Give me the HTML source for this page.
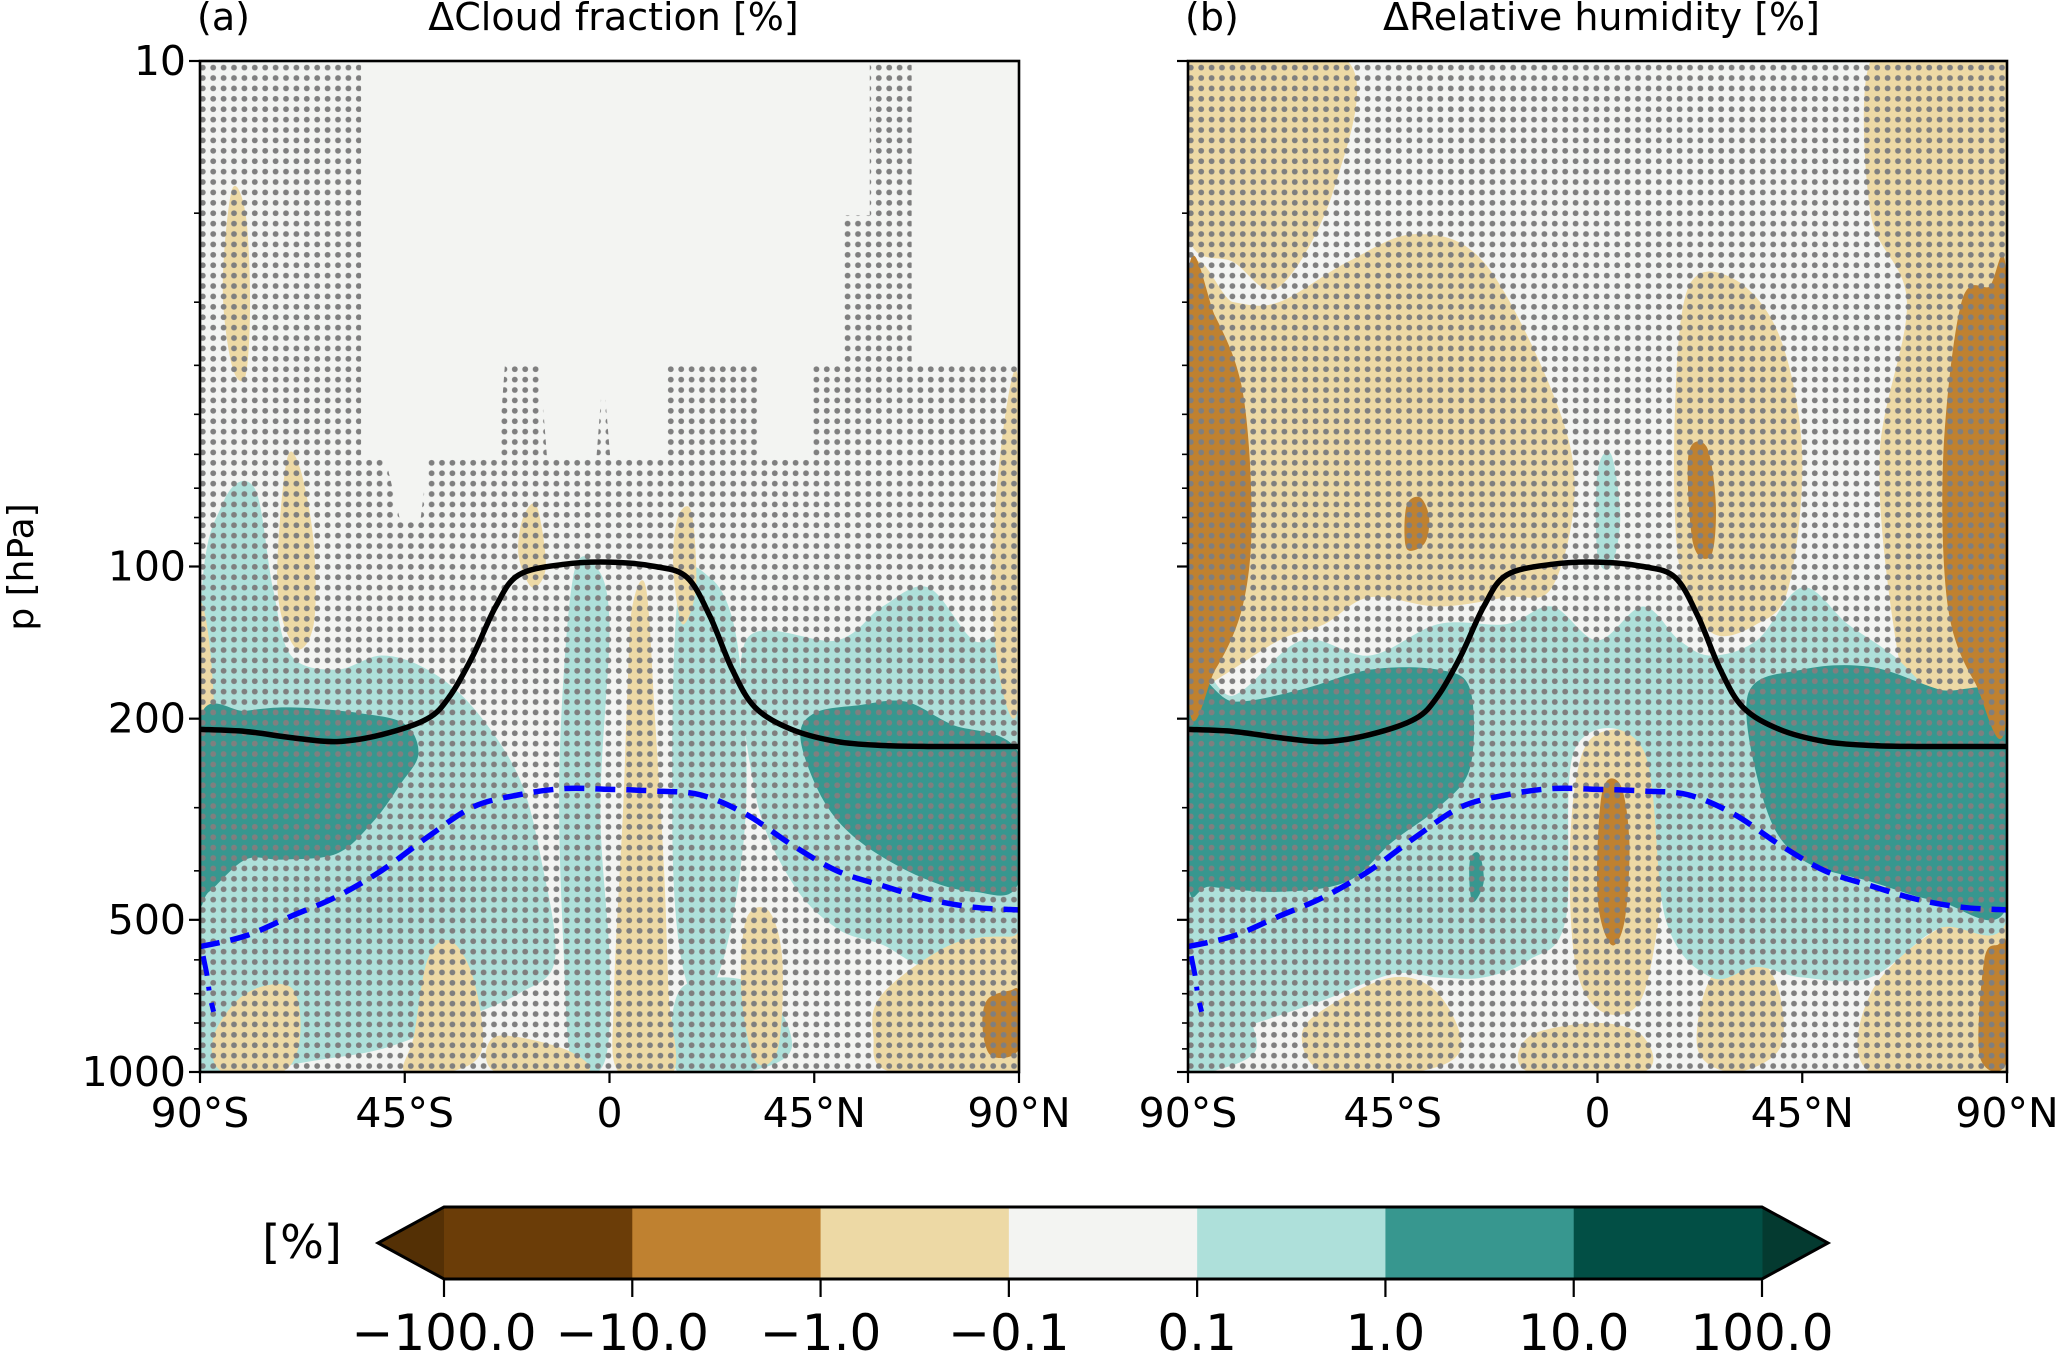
<!DOCTYPE html>
<html><head><meta charset="utf-8"><style>
html,body{margin:0;padding:0;background:#fff;}
svg{display:block;font-family:"DejaVu Sans","Liberation Sans",sans-serif;}
</style></head><body>
<svg id="fig" width="2067" height="1355" viewBox="0 0 2067 1355" xmlns="http://www.w3.org/2000/svg">
<defs>
<pattern id="dots" x="0" y="0" width="10.4" height="10.4" patternUnits="userSpaceOnUse">
<circle cx="5.2" cy="5.2" r="2.9" fill="#7f7f7f"/>
</pattern>
<clipPath id="clipA"><rect x="200" y="61" width="819" height="1011"/></clipPath>
<clipPath id="clipB"><rect x="1188" y="61" width="819" height="1011"/></clipPath>
</defs>
</svg>
<script>
// ---- data ----
const tropLat = [-90,-80,-70,-60,-50,-40,-35,-30,-25,-20,-10,0,10,17,22,27,32,40,50,60,70,90];
const tropP   = [210,212,218,222,215,200,180,150,120,104,99,98,100,105,125,160,190,210,222,226,227,227];
const blueLat = [-90,-80,-70,-60,-50,-40,-30,-20,-10,0,10,20,30,40,50,60,70,80,90];
const blueP   = [565,538,492,450,399,343,299,283,275,276,278,283,309,355,400,428,455,472,478];
const xTicks = [-90,-45,0,45,90];
const xTickLabels = ["90°S","45°S","0","45°N","90°N"];
const yMajor = [10,100,200,500,1000];
const yMinor = [20,30,40,50,60,70,80,90,300,400,600,700,800,900];
const cbLabels = ["\u2212100.0","\u221210.0","\u22121.0","\u22120.1","0.1","1.0","10.0","100.0"];
const cbColors = ["#6b3d08","#bf8130","#edd9a5","#f3f4f2","#aee0da","#37978f","#024f45"];

const lightA = [
 [[-90,130],[-85,75],[-78,70],[-74,110],[-70,150],[-60,160],[-50,150],[-40,160],[-30,190],[-20,260],[-15,380],[-12,600],[-20,700],[-35,800],[-50,900],[-65,950],[-80,1000],[-90,1000]],
 [[-8,105],[-3,100],[0,130],[-2,300],[0,600],[-1,950],[-8,980],[-10,600],[-11,250]],
 [[15,115],[22,105],[28,140],[30,300],[25,600],[18,700],[14,400]],
 [[30,140],[50,140],[60,120],[70,110],[80,140],[90,150],[90,550],[80,560],[70,620],[60,560],[50,520],[40,420],[32,280]],
 [[15,700],[25,650],[35,700],[40,900],[30,1000],[15,1000]]
];
const tanA = [
 [[-83,18],[-80,20],[-79,30],[-80,42],[-83,40],[-85,28]],
 [[-71,62],[-68,64],[-65,90],[-65,130],[-69,145],[-73,110]],
 [[-90,120],[-88,140],[-87,200],[-90,210]],
 [[5,120],[8,110],[10,200],[12,400],[13,700],[14,1000],[2,1000],[1,700],[3,300],[4,170]],
 [[15,80],[18,78],[19,110],[16,130],[14,100]],
 [[-19,80],[-16,76],[-14,100],[-17,110],[-20,95]],
 [[87,50],[90,45],[90,180],[86,170],[84,100]],
 [[-40,600],[-35,550],[-30,650],[-28,900],[-35,1000],[-45,1000],[-43,850]],
 [[-80,700],[-70,680],[-68,850],[-72,1000],[-85,1000],[-87,850]],
 [[30,500],[35,480],[38,600],[37,900],[32,950],[29,700]],
 [[60,700],[75,560],[88,540],[90,560],[90,1000],[62,1000],[58,850]],
 [[-25,850],[-10,900],[-5,1000],[-25,1000]]
];
const darkA = [
 [[-90,200],[-80,193],[-70,190],[-55,195],[-45,205],[-42,235],[-46,270],[-52,320],[-60,370],[-72,380],[-80,380],[-88,440],[-90,440]],
 [[42,220],[45,195],[55,188],[65,185],[75,205],[90,235],[90,420],[80,440],[68,410],[55,350],[47,290]]
];
const brownA = [
 [[83,720],[88,690],[90,700],[90,900],[84,930],[82,820]]
];
const tanB = [
 [[-90,10],[-55,10],[-58,18],[-70,28],[-80,25],[-90,22]],
 [[-90,28],[-80,30],[-70,30],[-55,25],[-40,22],[-25,25],[-10,45],[-5,70],[-10,110],[-20,115],[-35,120],[-50,115],[-60,130],[-70,140],[-85,170],[-90,175]],
 [[20,28],[30,27],[40,35],[45,60],[42,110],[35,130],[25,135],[18,100],[17,50]],
 [[60,10],[75,10],[90,10],[90,190],[80,200],[70,190],[65,130],[62,60],[68,30],[60,20]],
 [[-3,230],[5,210],[12,230],[15,350],[12,600],[8,750],[0,750],[-5,600],[-6,350]],
 [[-60,750],[-45,650],[-35,700],[-30,900],[-40,1000],[-60,1000],[-65,850]],
 [[-15,850],[0,800],[10,850],[10,1000],[-15,1000]],
 [[25,650],[35,600],[40,700],[40,900],[30,1000],[22,900]],
 [[60,700],[75,520],[88,500],[90,520],[90,1000],[60,1000]]
];
const lightB = [
 [[-90,165],[-80,180],[-65,140],[-50,150],[-35,130],[-20,130],[-10,120],[0,140],[10,120],[18,140],[25,150],[35,140],[45,110],[55,130],[65,150],[75,180],[90,200],[90,500],[75,520],[60,650],[45,650],[35,620],[25,650],[15,500],[10,230],[-5,230],[-7,500],[-15,600],[-25,650],[-35,650],[-45,640],[-60,720],[-75,800],[-85,850],[-90,700]],
 [[0,65],[3,60],[5,80],[3,100],[0,95]],
 [[-90,650],[-80,700],[-75,900],[-85,1000],[-90,1000]]
];
const darkB = [
 [[-90,170],[-80,185],[-65,175],[-50,160],[-35,160],[-28,175],[-28,250],[-35,300],[-45,350],[-55,420],[-70,440],[-85,430],[-90,420]],
 [[33,180],[45,160],[60,158],[75,175],[90,190],[90,470],[75,460],[60,420],[45,380],[37,300]],
 [[-28,380],[-26,370],[-25,420],[-27,460],[-28,440]]
];
const brownB = [
 [[-90,27],[-84,32],[-78,45],[-76,80],[-78,120],[-84,160],[-90,180]],
 [[-42,76],[-39,73],[-37,80],[-38,90],[-42,92]],
 [[20,60],[24,58],[26,75],[25,95],[21,90]],
 [[80,30],[86,28],[90,28],[90,195],[83,170],[77,120],[76,60]],
 [[1,280],[5,270],[7,350],[6,500],[3,560],[0,450]],
 [[85,600],[88,560],[90,570],[90,950],[84,930]]
];
const noStipA = [
 [[-54.6,10],[57.2,10],[57.2,20.2],[51,20.2],[51,40],[44.8,40],[44.8,61.4],[32.5,61.4],[32.5,40],[12.5,40],[12.5,61.4],[0.2,61.4],[-1.4,41],[-2.9,61.4],[-13.7,61.4],[-15.3,40],[-23,40],[-24.5,61.4],[-39.9,61.4],[-41.5,80.4],[-46.1,80.4],[-49.2,61.4],[-54.6,61.4]],
 [[66.4,10],[90,10],[90,40],[66.4,40]]
];

// ---- drawing ----
const NS="http://www.w3.org/2000/svg";
const svg=document.getElementById('fig');
const Y0=61,H=1011,W=819;
function yP(p){return Y0+(Math.log10(p)-1)/2*H;}
function mk(tag,attrs,parent){const e=document.createElementNS(NS,tag);for(const k in attrs)e.setAttribute(k,attrs[k]);(parent||svg).appendChild(e);return e;}
function smooth(pts){
 const n=pts.length;let d=`M${pts[0][0]},${pts[0][1]}`;
 for(let i=0;i<n;i++){const p0=pts[(i-1+n)%n],p1=pts[i],p2=pts[(i+1)%n],p3=pts[(i+2)%n];
  const c1=[p1[0]+(p2[0]-p0[0])/6,p1[1]+(p2[1]-p0[1])/6],c2=[p2[0]-(p3[0]-p1[0])/6,p2[1]-(p3[1]-p1[1])/6];
  d+=`C${c1[0]},${c1[1]} ${c2[0]},${c2[1]} ${p2[0]},${p2[1]}`;}
 return d+'Z';}
function openSmooth(pts){
 let d=`M${pts[0][0]},${pts[0][1]}`;const n=pts.length;
 for(let i=0;i<n-1;i++){const p0=pts[Math.max(i-1,0)],p1=pts[i],p2=pts[i+1],p3=pts[Math.min(i+2,n-1)];
  const c1=[p1[0]+(p2[0]-p0[0])/6,p1[1]+(p2[1]-p0[1])/6],c2=[p2[0]-(p3[0]-p1[0])/6,p2[1]-(p3[1]-p1[1])/6];
  d+=`C${c1[0]},${c1[1]} ${c2[0]},${c2[1]} ${p2[0]},${p2[1]}`;}
 return d;}

function panel(x0,id,letter,title,layers,noStip,showYLabels){
 const xL=lat=>x0+(lat+90)/180*W;
 const g=mk('g',{'clip-path':`url(#clip${id})`});
 
 
 mk('rect',{x:x0,y:Y0,width:W,height:H,fill:'#f3f4f2'},g);
 layers.forEach(([blobs,color,name])=>{
  blobs.forEach(b=>{
   const e=mk('path',{d:smooth(b.map(q=>[xL(q[0]),yP(q[1])])),fill:color},g);
   
   
  });
 });
 const st=mk('rect',{x:x0,y:Y0,width:W,height:H,fill:'url(#dots)'},g);
 
 
 noStip.forEach(poly=>{
  const e=mk('polygon',{points:poly.map(q=>`${xL(q[0])},${yP(q[1])}`).join(' '),fill:'#f3f4f2'},g);
  
  
 });
 const tl=mk('path',{d:openSmooth(tropLat.map((l,i)=>[xL(l),yP(tropP[i])])),fill:'none',stroke:'#000','stroke-width':5.5},g);
 
 
 const bl=mk('path',{d:openSmooth(blueLat.map((l,i)=>[xL(l),yP(blueP[i])])),fill:'none',stroke:'#0000ff','stroke-width':5.5,'stroke-dasharray':'20 11'},g);
 
 
 const hk=mk('path',{d:`M${xL(-89.3)},${yP(590)} L${xL(-88.5)},${yP(640)} L${xL(-88)},${yP(690)} M${xL(-87.5)},${yP(730)} L${xL(-87)},${yP(760)}`,fill:'none',stroke:'#0000ff','stroke-width':5,'stroke-dasharray':'20 11'},g);
 
 
 const fr=mk('rect',{x:x0,y:Y0,width:W,height:H,fill:'none',stroke:'#000','stroke-width':2.6});
 
 
 xTicks.forEach((t,i)=>{
  mk('line',{x1:xL(t),x2:xL(t),y1:Y0+H,y2:Y0+H+11,stroke:'#000','stroke-width':2.2});
  const tx=mk('text',{x:xL(t),y:Y0+H+55,'font-size':41,'text-anchor':'middle',fill:'#000'});
  tx.textContent=xTickLabels[i];
  
  
 });
 yMajor.forEach(p=>{
  mk('line',{x1:x0-11,x2:x0,y1:yP(p),y2:yP(p),stroke:'#000','stroke-width':2.2});
  if(showYLabels){const tx=mk('text',{x:x0-14,y:yP(p)+14,'font-size':41,'text-anchor':'end',fill:'#000'});
   tx.textContent=String(p);
   
   }
 });
 yMinor.forEach(p=>mk('line',{x1:x0-6,x2:x0,y1:yP(p),y2:yP(p),stroke:'#000','stroke-width':1.6}));
 const lt=mk('text',{x:x0-3,y:30,'font-size':38,fill:'#000'});
 lt.textContent=letter;
 
 
 const tt=mk('text',{x:x0+W*0.5+4,y:30,'font-size':38,'text-anchor':'middle',fill:'#000'});
 tt.textContent=title;
 
 
}

panel(200,'A','(a)','\u0394Cloud fraction [%]',[[lightA,'#aee0da','light-teal-region'],[tanA,'#edd9a5','tan-region'],[darkA,'#37978f','dark-teal-region'],[brownA,'#bf8130','brown-region']],noStipA,true);
panel(1188,'B','(b)','\u0394Relative humidity [%]',[[tanB,'#edd9a5','tan-region'],[lightB,'#aee0da','light-teal-region'],[darkB,'#37978f','dark-teal-region'],[brownB,'#bf8130','brown-region']],[],false);

const yl=mk('text',{x:0,y:0,'font-size':36,'text-anchor':'middle',transform:'translate(33,567) rotate(-90)',fill:'#000'});
yl.textContent='p [hPa]';



// colorbar
const cbX0=444,cbX1=1762,cbY0=1207,cbY1=1279,cbW=(cbX1-cbX0)/cbColors.length;
const cb=mk('g',{});


const lTri=mk('polygon',{points:`${cbX0},${cbY0} ${378},${(cbY0+cbY1)/2} ${cbX0},${cbY1}`,fill:'#543005'},cb);


const rTri=mk('polygon',{points:`${cbX1},${cbY0} ${1828},${(cbY0+cbY1)/2} ${cbX1},${cbY1}`,fill:'#043a30'},cb);


cbColors.forEach((c,i)=>{
 const r=mk('rect',{x:cbX0+i*cbW,y:cbY0,width:cbW+0.5,height:cbY1-cbY0,fill:c},cb);
 
 
});
mk('polygon',{points:`${cbX0},${cbY0} ${cbX1},${cbY0} 1828,${(cbY0+cbY1)/2} ${cbX1},${cbY1} ${cbX0},${cbY1} 378,${(cbY0+cbY1)/2}`,fill:'none',stroke:'#000','stroke-width':3},cb);
cbLabels.forEach((l,i)=>{
 const x=cbX0+i*cbW;
 mk('line',{x1:x,x2:x,y1:cbY1,y2:cbY1+18,stroke:'#000','stroke-width':2.2},cb);
 const t=mk('text',{x:x,y:1350,'font-size':50,'text-anchor':'middle',fill:'#000'},cb);
 t.textContent=l;
 
 
});
const cu=mk('text',{x:302,y:1258,'font-size':46,'text-anchor':'middle',fill:'#000'});
cu.textContent='[%]';


</script>
</body></html>
